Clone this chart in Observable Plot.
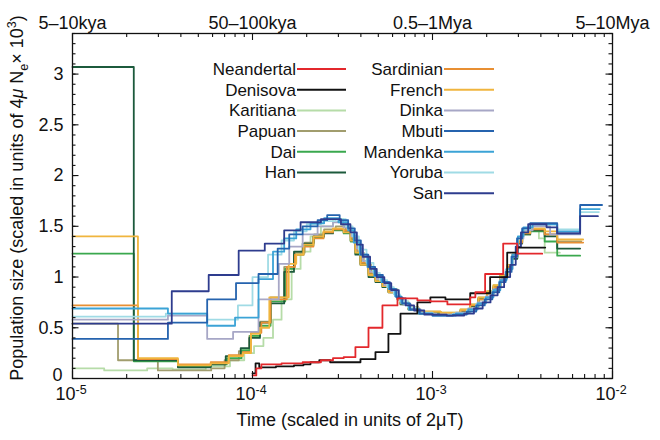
<!DOCTYPE html>
<html><head><meta charset="utf-8">
<script src="https://cdn.jsdelivr.net/npm/d3@7"></script>
<script src="https://cdn.jsdelivr.net/npm/@observablehq/plot@0.6"></script>
<style>
html,body{margin:0;padding:0;background:#fff;}
svg text{font-family:'Liberation Sans',Arial,Helvetica,sans-serif;}
</style>
</head><body><div id="chart"></div>
<script>
// ---- data: [time (units of 2μT), population size (units of 4μNe×10^3)] step points ----
const neandertal = [[1.0e-4,0.03],[1.05e-4,0.10],[1.12e-4,0.14],[1.45e-4,0.15],[1.9e-4,0.16],[2.4e-4,0.18],[2.8e-4,0.20],[3.21e-4,0.21],[3.73e-4,0.31],[4.41e-4,0.50],[5.27e-4,0.72],[6.39e-4,0.79],[8.24e-4,0.77],[9.73e-4,0.76],[1.21e-3,0.73],[1.62e-3,0.80],[1.73e-3,0.85],[1.96e-3,1.03],[2.47e-3,1.33],[2.96e-3,1.23],[4.07e-3,1.23]];
const denisova = [[1.0e-4,0.05],[1.04e-4,0.15],[1.09e-4,0.11],[1.35e-4,0.12],[1.7e-4,0.13],[1.92e-4,0.14],[2.1e-4,0.16],[2.35e-4,0.18],[2.7e-4,0.16],[3.98e-4,0.19],[4.82e-4,0.26],[5.69e-4,0.44],[6.64e-4,0.64],[8.24e-4,0.75],[9.73e-4,0.80],[1.18e-3,0.78],[1.62e-3,0.84],[2.09e-3,1.0],[2.6e-3,1.24],[2.96e-3,1.29],[4.23e-3,1.29]];
const karitiana = [[1e-5,0.10],[1.5e-5,0.08],[2.6e-5,0.10],[3.6e-5,0.09],[5.5e-5,0.12],[7.5e-5,0.18],[9.0e-5,0.25],[1.02e-4,0.32],[1.15e-4,0.40],[1.3e-4,0.58],[1.45e-4,0.78],[1.65e-4,1.08],[1.85e-4,1.25],[2.1e-4,1.40],[2.4e-4,1.50],[2.8e-4,1.57],[3.2e-4,1.50],[3.51e-4,1.40],[3.73e-4,1.28],[3.98e-4,1.16],[4.41e-4,1.06],[4.82e-4,0.99],[5.27e-4,0.93],[5.69e-4,0.88],[6.39e-4,0.81],[6.64e-4,0.76],[7.35e-4,0.70],[8.35e-4,0.66],[1.11e-3,0.65],[1.43e-3,0.68],[1.62e-3,0.73],[1.8e-3,0.80],[2.01e-3,0.86],[2.18e-3,0.92],[2.38e-3,1.02],[2.6e-3,1.10],[2.77e-3,1.20],[2.96e-3,1.36],[3.15e-3,1.43],[3.49e-3,1.46],[3.9e-3,1.38],[4.2e-3,1.24],[5.1e-3,1.24]];
const papuan = [[1e-5,0.54],[1.79e-5,0.18],[2.98e-5,0.08],[5.9e-5,0.10],[7.0e-5,0.18],[8.4e-5,0.27],[9.6e-5,0.42],[1.1e-4,0.56],[1.26e-4,0.80],[1.5e-4,1.10],[1.72e-4,1.24],[1.95e-4,1.34],[2.2e-4,1.42],[2.5e-4,1.47],[2.9e-4,1.50],[3.3e-4,1.45],[3.6e-4,1.36],[3.85e-4,1.24],[4.15e-4,1.13],[4.55e-4,1.03],[4.95e-4,0.97],[5.4e-4,0.91],[5.85e-4,0.85],[6.4e-4,0.78],[6.8e-4,0.73],[7.5e-4,0.68],[8.5e-4,0.65],[1.1e-3,0.64],[1.43e-3,0.67],[1.62e-3,0.72],[1.8e-3,0.79],[2.01e-3,0.85],[2.18e-3,0.91],[2.38e-3,1.01],[2.6e-3,1.10],[2.77e-3,1.20],[2.96e-3,1.35],[3.15e-3,1.43],[3.49e-3,1.47],[4.2e-3,1.42],[4.93e-3,1.35],[6.7e-3,1.35]];
const dai = [[1e-5,1.23],[2.19e-5,0.17],[3.85e-5,0.12],[5.86e-5,0.14],[7.2e-5,0.20],[8.7e-5,0.28],[9.7e-5,0.42],[1.1e-4,0.52],[1.26e-4,0.76],[1.52e-4,1.08],[1.7e-4,1.22],[1.92e-4,1.31],[2.18e-4,1.39],[2.48e-4,1.44],[2.8e-4,1.46],[3.21e-4,1.43],[3.51e-4,1.35],[3.73e-4,1.23],[3.98e-4,1.13],[4.41e-4,1.03],[4.82e-4,0.96],[5.27e-4,0.91],[5.69e-4,0.86],[6.39e-4,0.79],[6.64e-4,0.74],[7.35e-4,0.69],[8.35e-4,0.65],[1.11e-3,0.64],[1.43e-3,0.67],[1.62e-3,0.72],[1.8e-3,0.79],[2.01e-3,0.85],[2.18e-3,0.90],[2.38e-3,1.00],[2.6e-3,1.09],[2.77e-3,1.19],[2.96e-3,1.34],[3.15e-3,1.42],[3.49e-3,1.45],[4.2e-3,1.35],[4.93e-3,1.21],[6.61e-3,1.21]];
const han = [[1e-5,3.07],[2.19e-5,0.18],[3.85e-5,0.11],[5.86e-5,0.14],[7.1e-5,0.22],[8.6e-5,0.30],[9.6e-5,0.40],[1.1e-4,0.55],[1.26e-4,0.74],[1.5e-4,1.05],[1.7e-4,1.25],[1.9e-4,1.33],[2.18e-4,1.40],[2.5e-4,1.43],[2.8e-4,1.47],[3.21e-4,1.44],[3.51e-4,1.36],[3.73e-4,1.22],[3.98e-4,1.12],[4.41e-4,1.00],[4.82e-4,0.95],[5.27e-4,0.90],[5.69e-4,0.85],[6.39e-4,0.78],[6.64e-4,0.73],[7.35e-4,0.68],[8.35e-4,0.64],[1.11e-3,0.63],[1.43e-3,0.66],[1.62e-3,0.71],[1.8e-3,0.78],[2.01e-3,0.84],[2.18e-3,0.89],[2.38e-3,0.99],[2.6e-3,1.08],[2.77e-3,1.18],[2.96e-3,1.33],[3.15e-3,1.42],[3.49e-3,1.46],[4.2e-3,1.40],[4.93e-3,1.28],[6.61e-3,1.28]];
const sardinian = [[1e-5,0.72],[2.31e-5,0.19],[3.85e-5,0.14],[5.86e-5,0.16],[7.38e-5,0.23],[8.83e-5,0.26],[9.8e-5,0.45],[1.12e-4,0.55],[1.26e-4,0.78],[1.55e-4,1.10],[1.72e-4,1.22],[1.92e-4,1.30],[2.18e-4,1.38],[2.48e-4,1.44],[2.8e-4,1.47],[3.21e-4,1.46],[3.51e-4,1.39],[3.73e-4,1.27],[3.98e-4,1.14],[4.41e-4,1.04],[4.82e-4,0.98],[5.27e-4,0.93],[5.69e-4,0.87],[6.39e-4,0.80],[6.64e-4,0.75],[7.35e-4,0.70],[8.35e-4,0.66],[1.11e-3,0.64],[1.43e-3,0.67],[1.62e-3,0.72],[1.8e-3,0.78],[2.01e-3,0.84],[2.18e-3,0.90],[2.38e-3,1.00],[2.6e-3,1.10],[2.77e-3,1.20],[2.96e-3,1.34],[3.15e-3,1.43],[3.49e-3,1.47],[4.2e-3,1.42],[4.93e-3,1.34],[6.87e-3,1.34]];
const french = [[1e-5,1.40],[2.31e-5,0.20],[3.85e-5,0.13],[5.86e-5,0.15],[7.38e-5,0.22],[8.83e-5,0.25],[9.8e-5,0.44],[1.1e-4,0.50],[1.24e-4,0.80],[1.59e-4,1.13],[1.75e-4,1.22],[1.92e-4,1.32],[2.18e-4,1.40],[2.48e-4,1.45],[2.8e-4,1.48],[3.21e-4,1.44],[3.51e-4,1.36],[3.73e-4,1.24],[3.98e-4,1.12],[4.41e-4,1.02],[4.82e-4,0.96],[5.27e-4,0.91],[5.69e-4,0.85],[6.39e-4,0.78],[6.64e-4,0.74],[7.35e-4,0.69],[8.35e-4,0.66],[1.11e-3,0.65],[1.43e-3,0.68],[1.62e-3,0.73],[1.8e-3,0.80],[2.01e-3,0.86],[2.18e-3,0.92],[2.38e-3,1.02],[2.6e-3,1.12],[2.77e-3,1.22],[2.96e-3,1.36],[3.15e-3,1.44],[3.49e-3,1.48],[4.2e-3,1.45],[4.93e-3,1.37],[6.87e-3,1.37]];
const dinka = [[1e-5,0.58],[3.39e-5,0.62],[5.6e-5,0.39],[7.8e-5,0.46],[1.08e-4,0.78],[1.4e-4,1.13],[1.6e-4,1.30],[1.9e-4,1.42],[2.3e-4,1.50],[2.8e-4,1.54],[3.2e-4,1.49],[3.55e-4,1.40],[3.8e-4,1.28],[4.1e-4,1.16],[4.5e-4,1.05],[4.9e-4,0.98],[5.4e-4,0.92],[5.9e-4,0.86],[6.4e-4,0.79],[6.9e-4,0.73],[7.6e-4,0.68],[8.6e-4,0.64],[1.05e-3,0.63],[1.35e-3,0.65],[1.58e-3,0.69],[1.78e-3,0.75],[1.98e-3,0.81],[2.18e-3,0.88],[2.38e-3,0.98],[2.58e-3,1.08],[2.78e-3,1.22],[2.98e-3,1.38],[3.2e-3,1.46],[3.6e-3,1.50],[4.5e-3,1.42],[6.61e-3,1.42]];
const mbuti = [[1e-5,0.39],[3.39e-5,0.55],[5.6e-5,0.78],[8.1e-5,0.94],[1.08e-4,1.03],[1.38e-4,1.28],[1.6e-4,1.42],[1.9e-4,1.50],[2.3e-4,1.56],[2.6e-4,1.61],[3.05e-4,1.56],[3.4e-4,1.48],[3.7e-4,1.36],[4.0e-4,1.22],[4.4e-4,1.10],[4.8e-4,1.02],[5.3e-4,0.95],[5.8e-4,0.88],[6.3e-4,0.80],[6.8e-4,0.74],[7.5e-4,0.68],[8.5e-4,0.64],[1.0e-3,0.62],[1.3e-3,0.63],[1.55e-3,0.66],[1.75e-3,0.72],[1.95e-3,0.78],[2.15e-3,0.85],[2.35e-3,0.95],[2.55e-3,1.05],[2.75e-3,1.20],[2.95e-3,1.38],[3.15e-3,1.48],[3.49e-3,1.53],[4.93e-3,1.43],[6.61e-3,1.71],[8.75e-3,1.71]];
const mandenka = [[1e-5,0.69],[3.39e-5,0.64],[5.6e-5,0.52],[8.0e-5,0.60],[1.08e-4,0.98],[1.3e-4,1.25],[1.5e-4,1.38],[1.75e-4,1.47],[2.1e-4,1.53],[2.5e-4,1.58],[3.0e-4,1.54],[3.4e-4,1.46],[3.65e-4,1.34],[3.95e-4,1.22],[4.35e-4,1.10],[4.75e-4,1.01],[5.2e-4,0.95],[5.7e-4,0.88],[6.2e-4,0.81],[6.7e-4,0.74],[7.4e-4,0.68],[8.4e-4,0.64],[1.0e-3,0.62],[1.35e-3,0.64],[1.58e-3,0.68],[1.78e-3,0.74],[1.98e-3,0.80],[2.18e-3,0.87],[2.38e-3,0.97],[2.58e-3,1.08],[2.78e-3,1.22],[2.98e-3,1.40],[3.2e-3,1.49],[3.6e-3,1.52],[4.93e-3,1.45],[6.61e-3,1.67],[8.5e-3,1.67]];
const yoruba = [[1e-5,0.61],[3.3e-5,0.64],[5.6e-5,0.58],[8.3e-5,0.72],[1.0e-4,1.00],[1.22e-4,1.22],[1.45e-4,1.36],[1.7e-4,1.45],[2.0e-4,1.52],[2.4e-4,1.55],[2.9e-4,1.57],[3.3e-4,1.50],[3.6e-4,1.40],[3.9e-4,1.27],[4.3e-4,1.14],[4.7e-4,1.04],[5.1e-4,0.97],[5.6e-4,0.90],[6.1e-4,0.83],[6.6e-4,0.76],[7.3e-4,0.70],[8.3e-4,0.65],[1.0e-3,0.63],[1.3e-3,0.64],[1.55e-3,0.67],[1.75e-3,0.73],[1.95e-3,0.79],[2.15e-3,0.86],[2.35e-3,0.96],[2.55e-3,1.07],[2.75e-3,1.20],[2.95e-3,1.38],[3.15e-3,1.47],[3.5e-3,1.52],[4.93e-3,1.47],[6.61e-3,1.64],[8.4e-3,1.64]];
const san = [[1e-5,0.54],[3.56e-5,0.86],[5.71e-5,1.02],[8.38e-5,1.26],[1.17e-4,1.33],[1.5e-4,1.46],[1.85e-4,1.54],[2.4e-4,1.57],[3.1e-4,1.52],[3.5e-4,1.44],[3.8e-4,1.32],[4.1e-4,1.20],[4.5e-4,1.08],[4.9e-4,1.00],[5.4e-4,0.94],[5.9e-4,0.87],[6.5e-4,0.79],[7.1e-4,0.72],[7.9e-4,0.67],[9.0e-4,0.63],[1.2e-3,0.62],[1.5e-3,0.64],[1.7e-3,0.69],[1.9e-3,0.75],[2.1e-3,0.82],[2.3e-3,0.90],[2.5e-3,1.00],[2.7e-3,1.12],[2.9e-3,1.30],[3.1e-3,1.44],[3.4e-3,1.52],[4.3e-3,1.49],[4.93e-3,1.43],[6.61e-3,1.60],[8.3e-3,1.60]];

const seriesNames  = ["Neandertal","Denisova","Karitiana","Papuan","Dai","Han","Sardinian","French","Dinka","Mbuti","Mandenka","Yoruba","San"];
const seriesColors = ["#e3282c","#111111","#b6dca8","#a19d6e","#3aa84e","#1c5a3c","#e88f33","#f0b53e","#a7a7c6","#2563ae","#3ba3d6","#a0dbe5","#2e3c8e"];
const seriesData   = {Neandertal:neandertal, Denisova:denisova, Karitiana:karitiana, Papuan:papuan, Dai:dai, Han:han, Sardinian:sardinian, French:french, Dinka:dinka, Mbuti:mbuti, Mandenka:mandenka, Yoruba:yoruba, San:san};
const drawOrder    = ["Karitiana","Papuan","Dai","Han","Sardinian","French","Dinka","Yoruba","Mandenka","Mbuti","San","Denisova","Neandertal"];

const xMajor = [1e-5,1e-4,1e-3,1e-2];
const xExponents = ["-5","-4","-3","-2"];
const topLabels = ["5–10kya","50–100kya","0.5–1Mya","5–10Mya"];
const yMajor = [0,0.5,1,1.5,2,2.5,3];
const yLabels = ["0","0.5","1","1.5","2","2.5","3"];

// ---- layout ----
const W=660, H=440, mL=72, mR=48, mT=33, mB=62;
const innerW = W-mL-mR, innerH = H-mT-mB;

const rows = [];
drawOrder.forEach(name => seriesData[name].forEach(([t,n]) => rows.push({name, t, n})));

const xMinor = [];
[1e-5,1e-4,1e-3].forEach(e => { for (let k=2;k<=9;k++) xMinor.push(k*e); });
const yMinor = d3.range(0, 3.45, 0.1);

const tick = {stroke:"#111", strokeWidth:1.1};
const yLab = d => yLabels[yMajor.indexOf(d)];
const chart = Plot.plot({
  width:W, height:H, marginLeft:mL, marginRight:mR, marginTop:mT, marginBottom:mB,
  x:{type:"log", domain:[1e-5,1e-2], axis:null},
  y:{domain:[0,3.4], axis:null},
  color:{domain:seriesNames, range:seriesColors},
  style:{fontFamily:"'Liberation Sans', Arial, Helvetica, sans-serif", fontSize:"17px", color:"#111", background:"#fff", overflow:"visible"},
  marks:[
    Plot.line(rows, {x:"t", y:"n", z:"name", stroke:"name", curve:"step-after", strokeWidth:1.8}),
    Plot.ruleX(xMinor, {x:d=>d, insetTop:innerH-4, ...tick}),
    Plot.ruleX(xMinor, {x:d=>d, insetBottom:innerH-4, ...tick}),
    Plot.ruleX(xMajor, {x:d=>d, insetTop:innerH-7, ...tick}),
    Plot.ruleX(xMajor, {x:d=>d, insetBottom:innerH-7, ...tick}),
    Plot.ruleY(yMinor, {y:d=>d, insetRight:innerW-3.5, ...tick}),
    Plot.ruleY(yMinor, {y:d=>d, insetLeft:innerW-3.5, ...tick}),
    Plot.ruleY(yMajor, {y:d=>d, insetRight:innerW-6.5, ...tick}),
    Plot.ruleY(yMajor, {y:d=>d, insetLeft:innerW-6.5, ...tick}),
    Plot.frame({stroke:"#111", strokeWidth:1.3}),
    Plot.text(yMajor.slice(0,1), {y:d=>d, frameAnchor:"left", dx:-10, dy:-3.5, textAnchor:"end", text:yLab, fontSize:18, fill:"#111"}),
    Plot.text(yMajor.slice(1), {y:d=>d, frameAnchor:"left", dx:-9, textAnchor:"end", text:yLab, fontSize:18, fill:"#111"}),
    Plot.text(xMajor, {x:d=>d, frameAnchor:"top", dy:-17, text:(d,i)=>topLabels[i], fontSize:18, fill:"#111"}),
    Plot.text(xMajor, {x:d=>d, frameAnchor:"bottom", dy:21.5, dx:3, textAnchor:"end", text:()=>"10", fontSize:18, fill:"#111"}),
    Plot.text(xMajor, {x:d=>d, frameAnchor:"bottom", dy:15.5, dx:3, textAnchor:"start", text:(d,i)=>xExponents[i], fontSize:12.5, fill:"#111"})
  ]
});
document.getElementById("chart").appendChild(chart);

// ---- axis titles and in-plot legend ----
const svg = d3.select(chart);
const font = "'Liberation Sans', Arial, Helvetica, sans-serif";
svg.append("text").attr("x", 350).attr("y", 426).attr("text-anchor","middle")
  .attr("font-size",18).attr("font-family",font).attr("fill","#111")
  .text("Time (scaled in units of 2μT)");
const yl = svg.append("text").attr("transform","translate(23,198) rotate(-90)").attr("text-anchor","middle")
  .attr("font-size",18).attr("font-family",font).attr("fill","#111");
yl.append("tspan").text("Population size (scaled in units of 4");
yl.append("tspan").attr("font-style","italic").text("μ");
yl.append("tspan").text(" N");
yl.append("tspan").attr("font-size",12.5).attr("dy",5).text("e");
yl.append("tspan").attr("dy",-5).text("× 10");
yl.append("tspan").attr("font-size",12.5).attr("dy",-7).text("3");
yl.append("tspan").attr("dy",7).text(")");

const legendCols = [
  {names:["Neandertal","Denisova","Karitiana","Papuan","Dai","Han"], textX:296, x1:297, x2:346},
  {names:["Sardinian","French","Dinka","Mbuti","Mandenka","Yoruba","San"], textX:443, x1:444, x2:494}
];
const lg = svg.append("g");
legendCols.forEach(col => col.names.forEach((name, i) => {
  const y = 69 + i*20.7;
  const c = seriesColors[seriesNames.indexOf(name)];
  lg.append("text").attr("x", col.textX).attr("y", y).attr("dy","0.35em").attr("text-anchor","end")
    .attr("font-size",17).attr("font-family",font).attr("fill","#111").text(name);
  lg.append("line").attr("x1",col.x1).attr("x2",col.x2).attr("y1",y).attr("y2",y)
    .attr("stroke",c).attr("stroke-width",2);
}));
</script>
</body></html>
